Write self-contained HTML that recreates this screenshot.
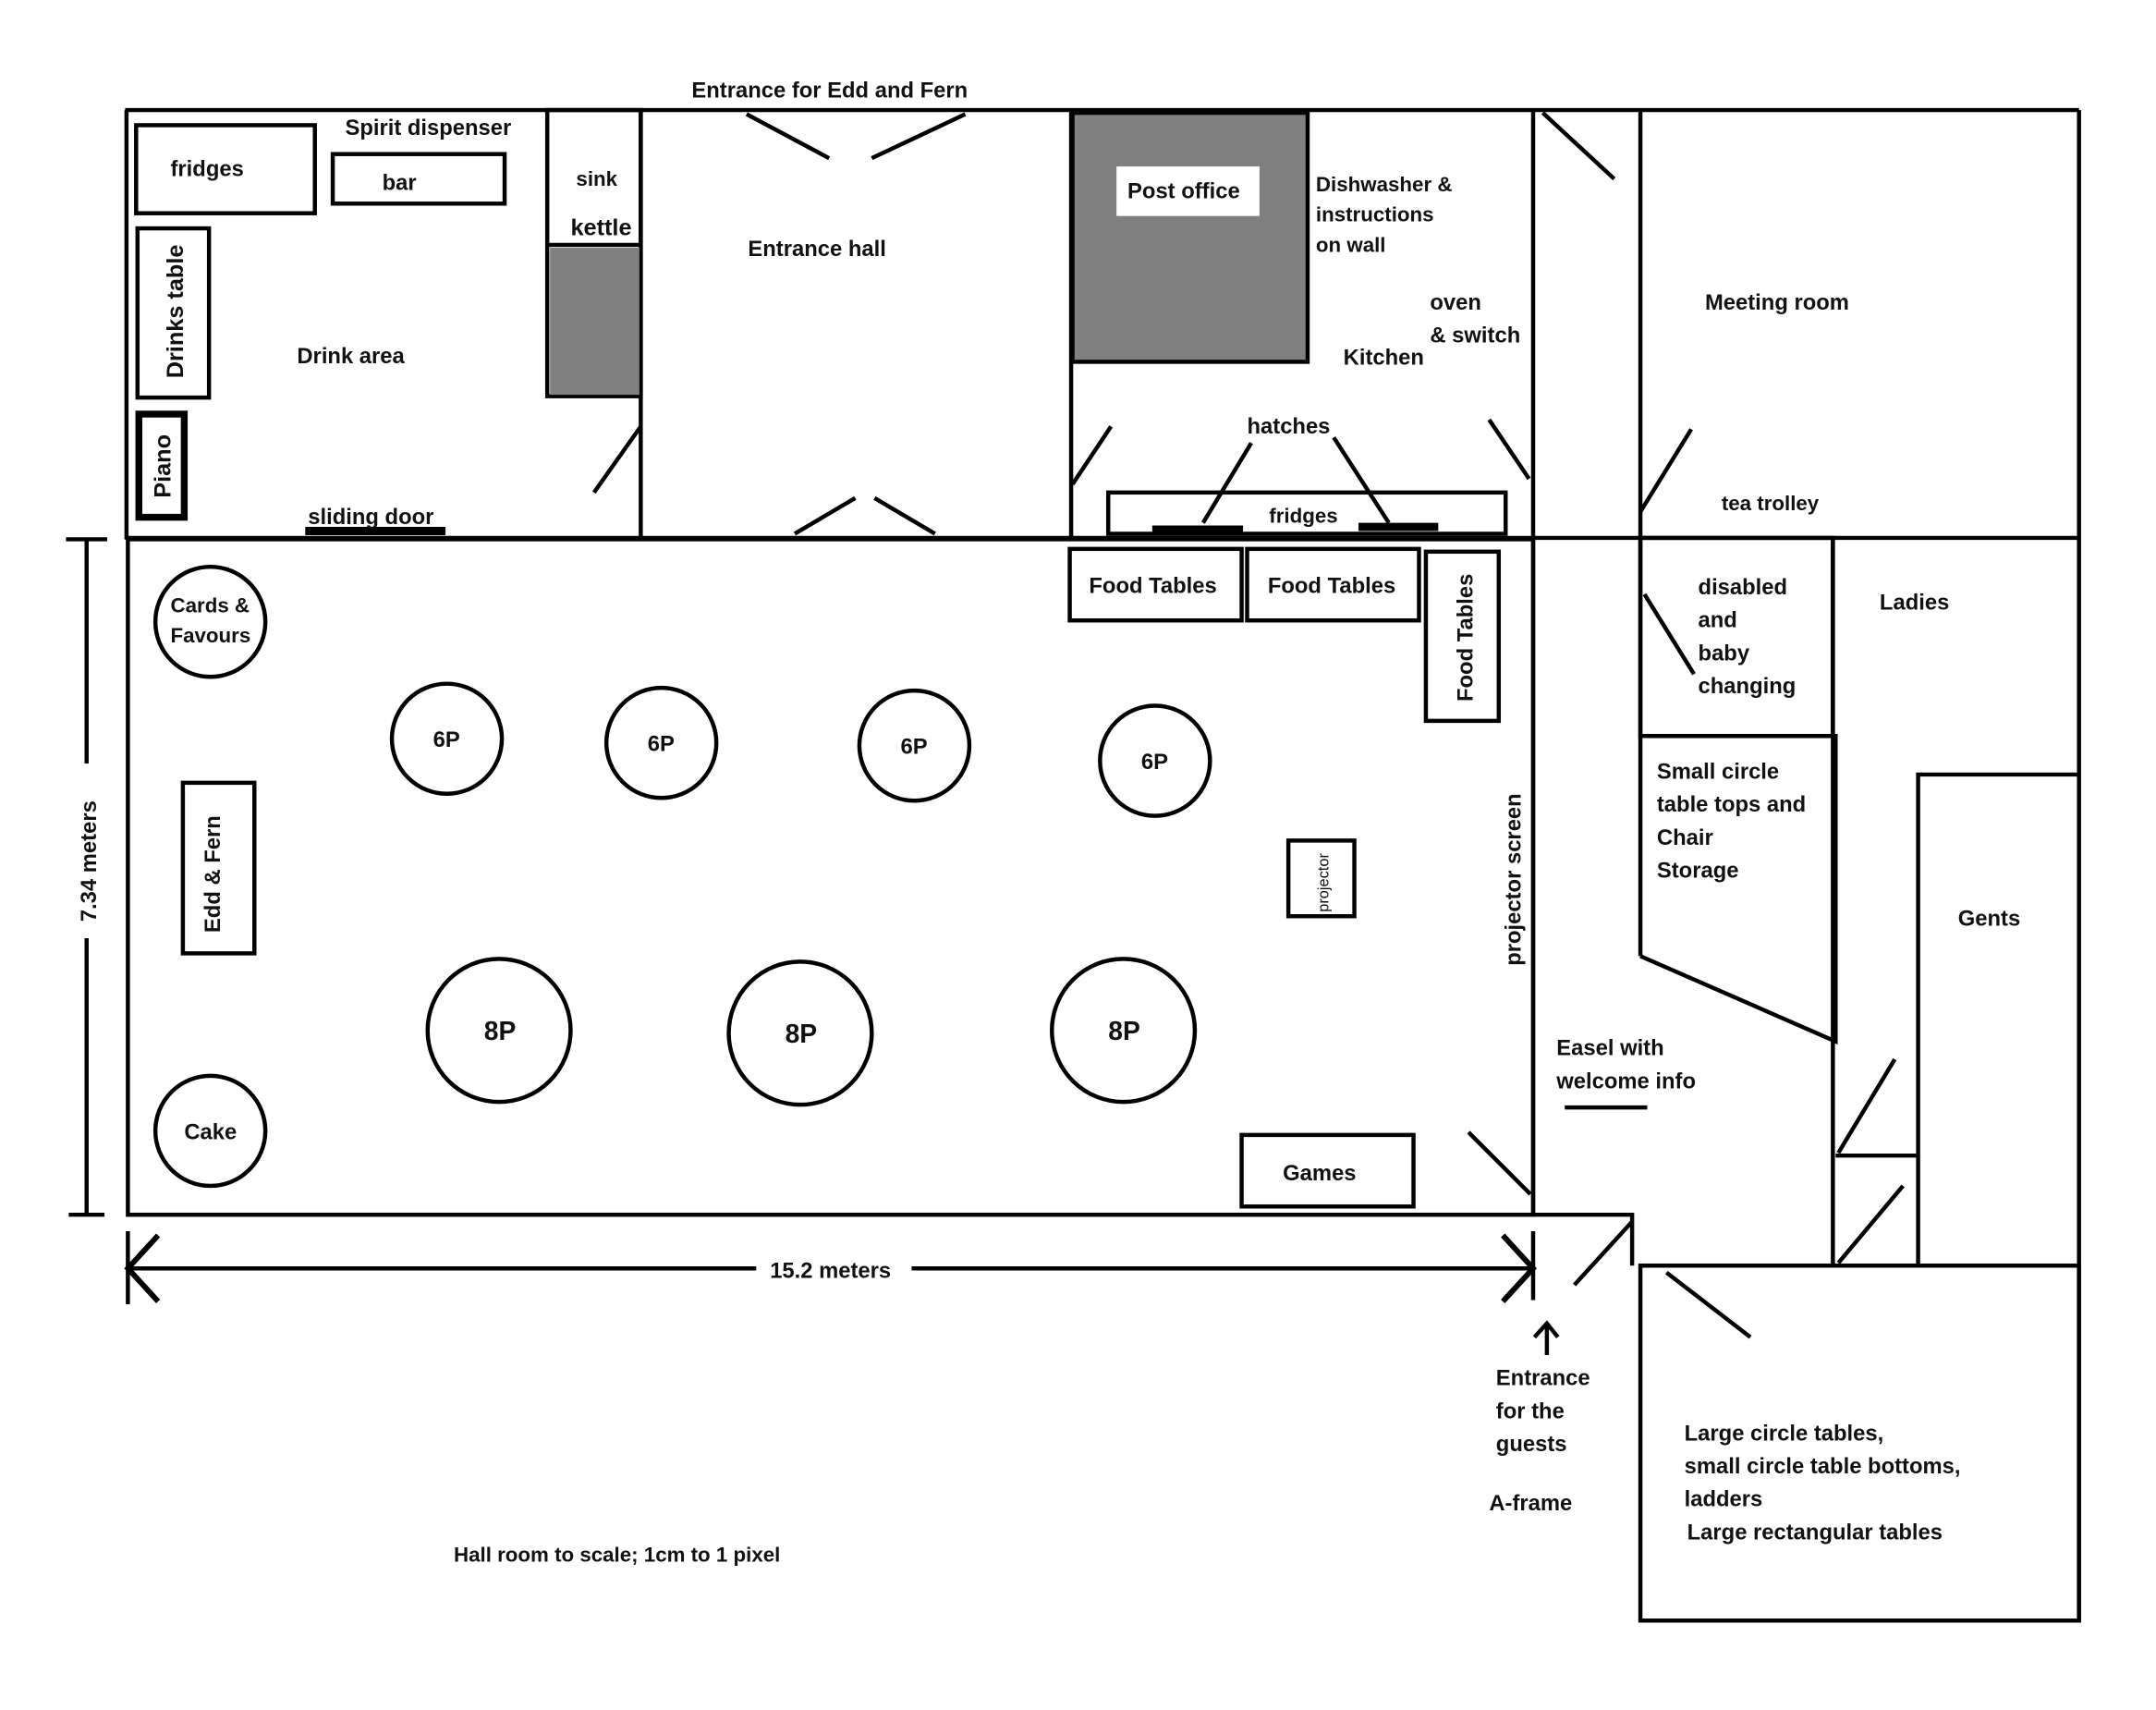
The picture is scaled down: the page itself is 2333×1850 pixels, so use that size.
<!DOCTYPE html>
<html><head><meta charset="utf-8"><style>
html,body{margin:0;padding:0;background:#fff;}
svg{display:block}
text{font-family:"Liberation Sans",sans-serif;font-weight:bold;fill:#111;font-size:16px}
</style></head><body>
<svg width="2333" height="1850" viewBox="0 0 1568 1243" preserveAspectRatio="none" xmlns="http://www.w3.org/2000/svg">
<g stroke="#000" stroke-width="3" fill="none">
<line x1="91" y1="80" x2="1512" y2="80"/>
<line x1="92" y1="80" x2="92" y2="392"/>
<line x1="91" y1="391" x2="1512" y2="391"/>
<line x1="466" y1="80" x2="466" y2="391"/>
<line x1="779" y1="80" x2="779" y2="391"/>
<line x1="1115" y1="80" x2="1115" y2="883"/>
<line x1="1193" y1="80" x2="1193" y2="391"/>
<line x1="1512" y1="80" x2="1512" y2="1178"/>
<rect x="93" y="392" width="1022" height="491"/>
<rect x="99" y="91" width="130" height="64"/>
<rect x="242" y="112" width="125" height="36"/>
<rect x="100" y="166" width="52" height="123"/>
<rect x="101" y="301" width="33" height="75" stroke-width="5"/>
<line x1="222" y1="386" x2="324" y2="386" stroke-width="6"/>
<rect x="398" y="80" width="68" height="208"/>
<line x1="398" y1="178" x2="466" y2="178"/>
<line x1="466" y1="310" x2="432" y2="358"/>
<line x1="543" y1="83" x2="603" y2="115"/>
<line x1="702" y1="83" x2="634" y2="115"/>
<line x1="578" y1="388" x2="622" y2="362"/>
<line x1="680" y1="388" x2="636" y2="362"/>
<line x1="780" y1="352" x2="808" y2="310"/>
<line x1="1112" y1="348" x2="1083" y2="305"/>
<rect x="806" y="358" width="289" height="30"/>
<line x1="875" y1="380" x2="910" y2="322"/>
<line x1="1010" y1="380" x2="970" y2="318"/>
<line x1="838" y1="385" x2="904" y2="385" stroke-width="6"/>
<line x1="988" y1="383" x2="1046" y2="383" stroke-width="6"/>
<line x1="1122" y1="82" x2="1174" y2="130"/>
<line x1="1193" y1="372" x2="1230" y2="312"/>
<line x1="1193" y1="391" x2="1193" y2="695"/>
<rect x="1193" y="391" width="140" height="144"/>
<line x1="1196" y1="432" x2="1232" y2="490"/>
<polyline points="1193,535 1335,535 1335,757 1193,695"/>
<line x1="1333" y1="391" x2="1333" y2="920"/>
<polyline points="1395,920 1395,563 1512,563"/>
<polyline points="1395,840 1335,840"/>
<line x1="1337" y1="838" x2="1378" y2="770"/>
<line x1="1337" y1="918" x2="1384" y2="862"/>
<line x1="1193" y1="920" x2="1512" y2="920"/>
<rect x="1193" y="920" width="319" height="258"/>
<line x1="1212" y1="925" x2="1273" y2="972"/>
<polyline points="1115,883 1187,883 1187,920"/>
<line x1="1187" y1="888" x2="1145" y2="934"/>
<rect x="778" y="399" width="125" height="52"/>
<rect x="907" y="399" width="125" height="52"/>
<rect x="1037" y="401" width="53" height="123"/>
<rect x="133" y="569" width="52" height="124"/>
<rect x="937" y="611" width="48" height="55"/>
<rect x="903" y="825" width="125" height="52"/>
<line x1="1068" y1="823" x2="1113" y2="868"/>
<line x1="1138" y1="805" x2="1198" y2="805"/>
<circle cx="153" cy="452" r="40"/>
<circle cx="325" cy="537" r="40"/>
<circle cx="481" cy="540" r="40"/>
<circle cx="665" cy="542" r="40"/>
<circle cx="840" cy="553" r="40"/>
<circle cx="363" cy="749" r="52"/>
<circle cx="582" cy="751" r="52"/>
<circle cx="817" cy="749" r="52"/>
<circle cx="153" cy="822" r="40"/>
<line x1="63" y1="392" x2="63" y2="555"/>
<line x1="63" y1="682" x2="63" y2="883"/>
<line x1="48" y1="392" x2="78" y2="392"/>
<line x1="50" y1="883" x2="76" y2="883"/>
<line x1="93" y1="922" x2="550" y2="922"/>
<line x1="663" y1="922" x2="1115" y2="922"/>
<polyline points="115,898 93,922 115,946" stroke-width="4"/>
<polyline points="1093,898 1115,922 1093,946" stroke-width="4"/>
<line x1="93" y1="895" x2="93" y2="948"/>
<line x1="1115" y1="895" x2="1115" y2="945"/>
<line x1="1125" y1="985" x2="1125" y2="963"/>
<polyline points="1116,972 1125,962 1133,972"/>
</g>
<rect x="400" y="180" width="65" height="107" fill="#808080"/>
<rect x="780" y="82" width="171" height="181" fill="#808080" stroke="#000" stroke-width="3"/>
<rect x="812" y="121" width="104" height="36" fill="#fff"/>
<text x="503" y="71">Entrance for Edd and Fern</text>
<text x="251" y="98">Spirit dispenser</text>
<text x="124" y="128">fridges</text>
<text x="278" y="138">bar</text>
<text x="419" y="135" style="font-size:15px">sink</text>
<text x="415" y="171" style="font-size:17px">kettle</text>
<text x="216" y="264">Drink area</text>
<text x="224" y="381">sliding door</text>
<text transform="translate(133,275) rotate(-90)" style="font-size:17px">Drinks table</text>
<text transform="translate(124,362) rotate(-90)" style="font-size:17px">Piano</text>
<text x="544" y="186">Entrance hall</text>
<text x="820" y="144">Post office</text>
<text x="957" y="139" style="font-size:15px">Dishwasher &amp;</text>
<text x="957" y="161" style="font-size:15px">instructions</text>
<text x="957" y="183" style="font-size:15px">on wall</text>
<text x="1040" y="225">oven</text>
<text x="1040" y="249">&amp; switch</text>
<text x="977" y="265">Kitchen</text>
<text x="907" y="315">hatches</text>
<text x="923" y="380" style="font-size:15px">fridges</text>
<text x="1240" y="225">Meeting room</text>
<text x="1252" y="371" style="font-size:15px">tea trolley</text>
<text x="1235" y="432">disabled</text>
<text x="1235" y="456">and</text>
<text x="1235" y="480">baby</text>
<text x="1235" y="504">changing</text>
<text x="1367" y="443">Ladies</text>
<text x="1205" y="566">Small circle</text>
<text x="1205" y="590">table tops and</text>
<text x="1205" y="614">Chair</text>
<text x="1205" y="638">Storage</text>
<text x="1424" y="673">Gents</text>
<text x="1132" y="767">Easel with</text>
<text x="1132" y="791">welcome info</text>
<text x="1088" y="1007">Entrance</text>
<text x="1088" y="1031">for the</text>
<text x="1088" y="1055">guests</text>
<text x="1083" y="1098">A-frame</text>
<text x="1225" y="1047">Large circle tables,</text>
<text x="1225" y="1071">small circle table bottoms,</text>
<text x="1225" y="1095">ladders</text>
<text x="1227" y="1119">Large rectangular tables</text>
<text x="330" y="1135" style="font-size:15px">Hall room to scale; 1cm to 1 pixel</text>
<text x="792" y="431">Food Tables</text>
<text x="922" y="431">Food Tables</text>
<text transform="translate(1071,510) rotate(-90)">Food Tables</text>
<text x="124" y="445" style="font-size:15px">Cards &amp;</text>
<text x="124" y="467" style="font-size:15px">Favours</text>
<text x="315" y="543">6P</text>
<text x="471" y="546">6P</text>
<text x="655" y="548">6P</text>
<text x="830" y="559">6P</text>
<text x="352" y="756" style="font-size:19px">8P</text>
<text x="571" y="758" style="font-size:19px">8P</text>
<text x="806" y="756" style="font-size:19px">8P</text>
<text x="134" y="828">Cake</text>
<text transform="translate(160,678) rotate(-90)">Edd &amp; Fern</text>
<text transform="translate(966,663) rotate(-90)" style="font-size:11px;font-weight:normal">projector</text>
<text transform="translate(1106,702) rotate(-90)">projector screen</text>
<text x="933" y="858">Games</text>
<text transform="translate(70,670) rotate(-90)">7.34 meters</text>
<text x="560" y="929">15.2 meters</text>
</svg>
</body></html>
